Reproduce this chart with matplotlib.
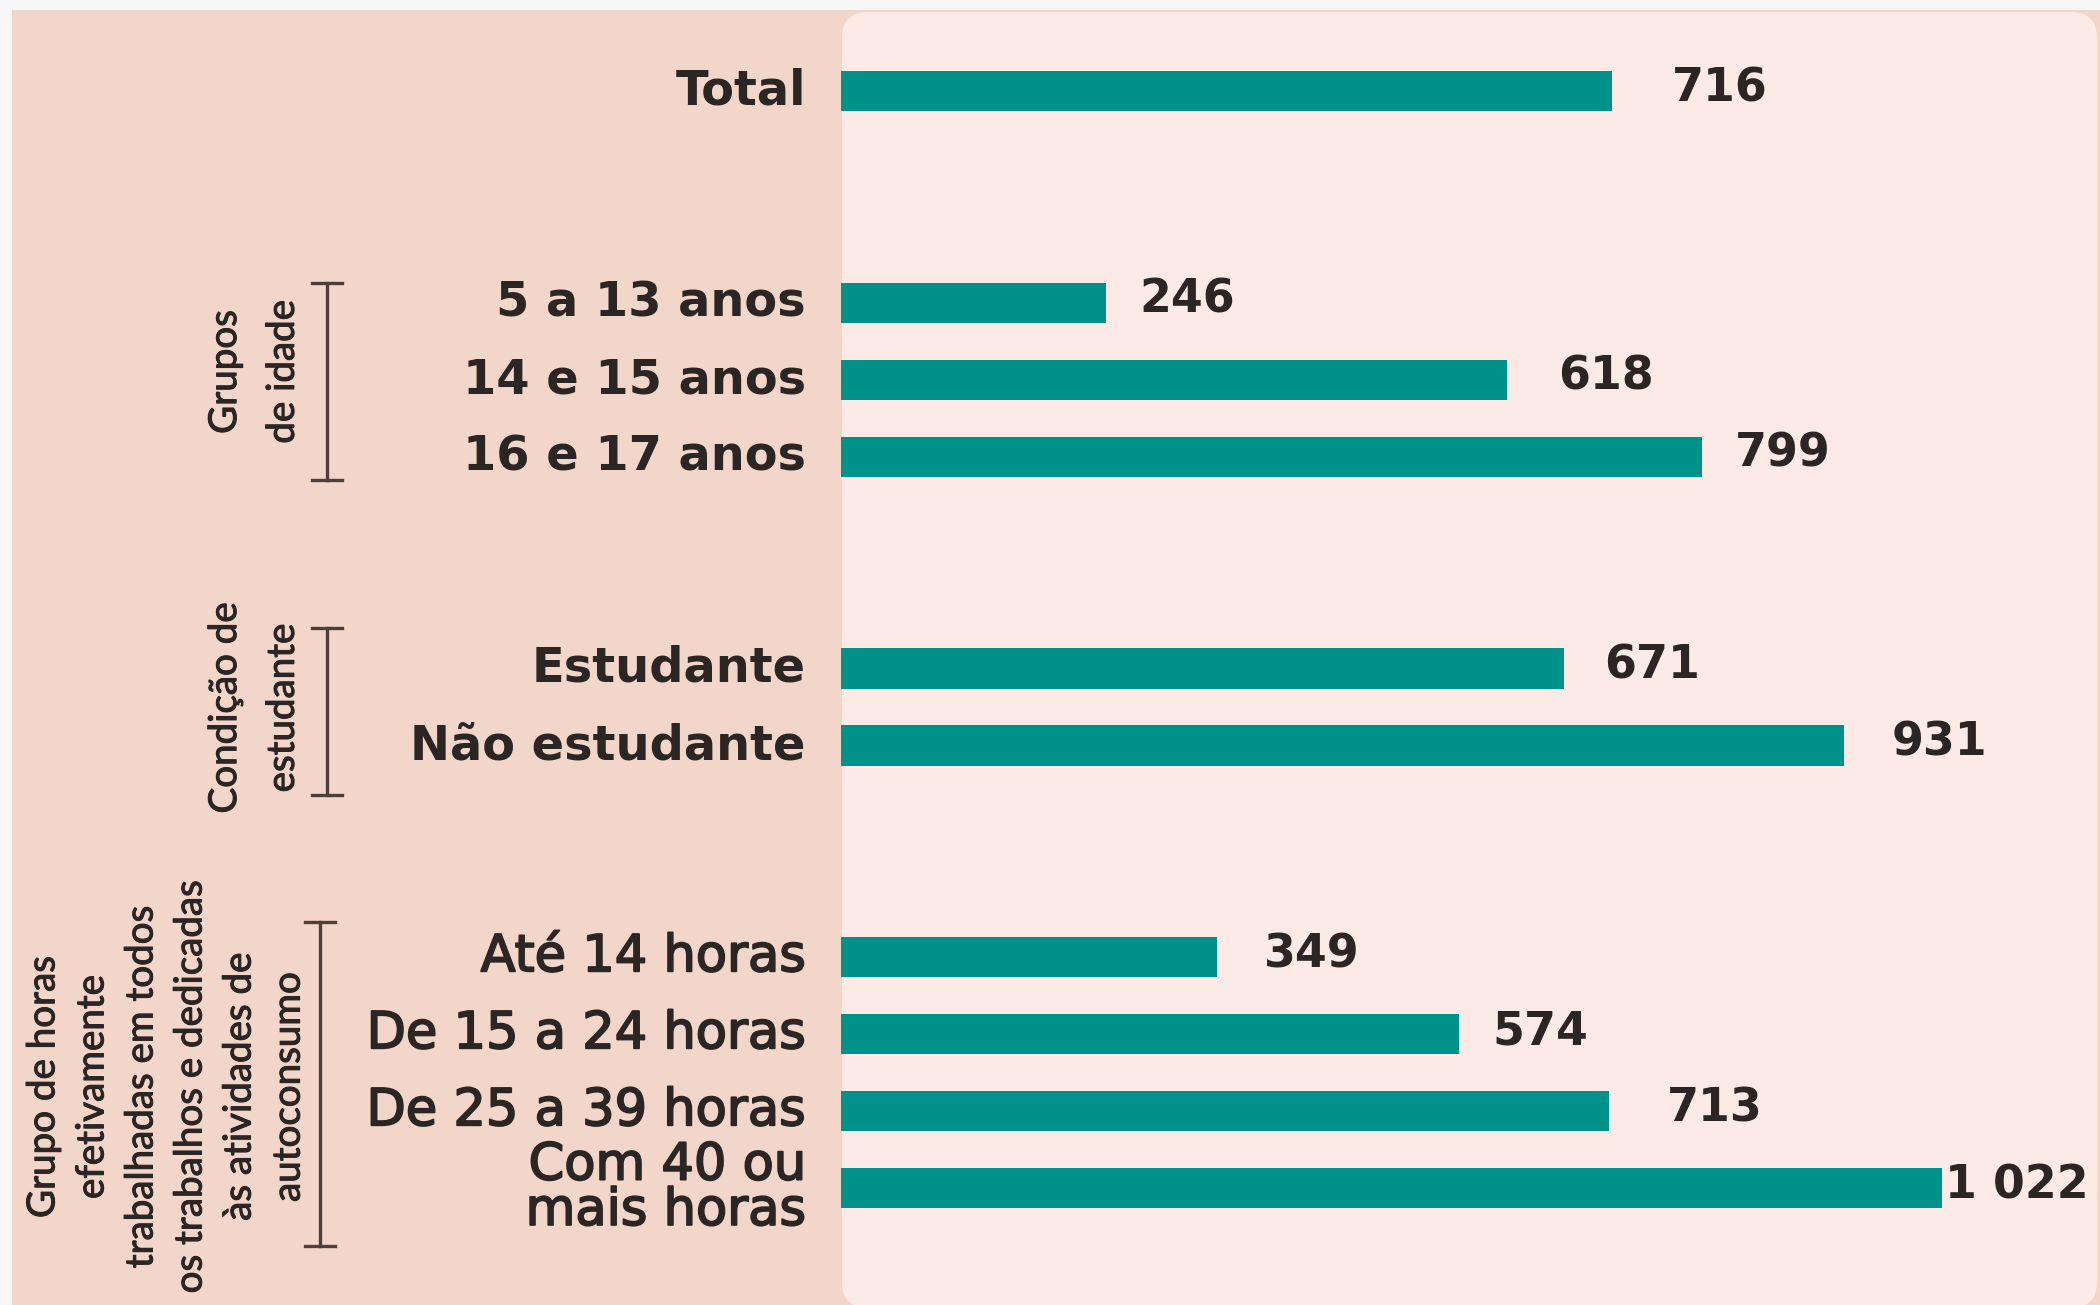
'''
Horizontal bar chart: values by age group, student condition and hours worked
'''

import matplotlib.pyplot as plt
import matplotlib.patheffects as pe
from matplotlib.patches import Rectangle, FancyBboxPatch


categories = ['Total',
              '5 a 13 anos', '14 e 15 anos', '16 e 17 anos',
              'Estudante', 'Não estudante',
              'Até 14 horas', 'De 15 a 24 horas', 'De 25 a 39 horas',
              'Com 40 ou\nmais horas']
values = [716, 246, 618, 799, 671, 931, 349, 574, 713, 1022]

group_sizes = [1, 3, 2, 4]
group_titles = [None,
                'Grupos\nde idade',
                'Condição de\nestudante',
                'Grupo de horas\nefetivamente\ntrabalhadas em todos\n'
                'os trabalhos e dedicadas\nàs atividades de\nautoconsumo']

# gap (in px) between bar end and its value label
label_gap = [60, 33, 52, 33, 40, 48, 47, 33, 58, 3]

W, H = 2100, 1305
X0 = 841          # px where the bars start
PX_PER_UNIT = 1.077
Y0 = 91           # px of the first bar centre
ROW = 77.0        # px per row

BAR_COLOR = '#00928A'
DARK_BG = '#F3D6CA'
LIGHT_BG = '#FCEAE6'
TEXT_COLOR = '#2B2523'
BRACKET_COLOR = '#4E3F3A'


def px2x(px):
    return (px - X0) / PX_PER_UNIT


def py2y(py):
    return (py - Y0) / ROW


def row_positions(sizes, extra_gap=1.75):
    pos = []
    grp = []
    y = 0.0
    for g, n in enumerate(sizes):
        for k in range(n):
            pos.append(y)
            grp.append(g)
            y += 1
        y += extra_gap
    return pos, grp


def draw_background(fig):
    # whitish frame on top / left, darker peach behind everything
    fig.patch.set_facecolor('#F7F7F7')
    fig.patches.append(Rectangle((13 / W, 0), 1, (H - 11) / H,
                                 transform=fig.transFigure, color=DARK_BG, zorder=0))
    # lighter rounded panel where the bars live
    fig.patches.append(FancyBboxPatch((843 / W, -2 / H), (2096 - 843) / W, (H - 11) / H,
                                      boxstyle='round,pad=0,rounding_size=0.012',
                                      mutation_aspect=W / H,
                                      transform=fig.transFigure, color=LIGHT_BG, zorder=1))


def main():
    fig = plt.figure(figsize=(14, 8.7), dpi=150)
    draw_background(fig)

    ax = fig.add_axes([0, 0, 1, 1])
    ax.set_zorder(5)
    ax.patch.set_visible(False)
    ax.set_xlim(px2x(0), px2x(W))
    ax.set_ylim(py2y(H), py2y(0))
    ax.axis('off')

    pos, grp = row_positions(group_sizes)

    ax.barh(pos, values, height=0.52, color=BAR_COLOR, zorder=3)

    # a thin stroke gives the regular fonts a medium weight
    medium = [pe.withStroke(linewidth=0.9, foreground=TEXT_COLOR)]

    # category labels and value labels (hours group is set in a lighter weight)
    for p, g, cat, v, gap in zip(pos, grp, categories, values, label_gap):
        if g == 3:
            ax.text(px2x(806), p, cat, ha='right', va='center', fontsize=24.5,
                    color=TEXT_COLOR, linespacing=0.88, path_effects=medium)
        else:
            ax.text(px2x(806), p, cat, ha='right', va='center', fontsize=23,
                    fontweight='bold', color=TEXT_COLOR)
        ax.text(v + gap / PX_PER_UNIT, p - 0.03, '{:,}'.format(v).replace(',', ' '),
                ha='left', va='center', fontsize=22, fontweight='bold', color=TEXT_COLOR)

    # brackets with rotated group titles
    bracket_px = [None, (327, 283, 480), (327, 628, 795), (320, 922, 1246)]
    title_px = [None, (254, 372, 1.75), (254, 708, 1.75), (166, 1087, 1.45)]
    for title, br, tp in zip(group_titles, bracket_px, title_px):
        if title is None:
            continue
        bx, btop, bbot = br
        x = px2x(bx)
        cap = 15 / PX_PER_UNIT
        ax.plot([x, x], [py2y(btop), py2y(bbot)], color=BRACKET_COLOR, lw=1.6)
        ax.plot([x - cap, x + cap], [py2y(btop)] * 2, color=BRACKET_COLOR, lw=1.6)
        ax.plot([x - cap, x + cap], [py2y(bbot)] * 2, color=BRACKET_COLOR, lw=1.6)
        tx, ty, ls = tp
        ax.text(px2x(tx), py2y(ty), title, rotation=90, ha='center', va='center',
                multialignment='center', fontsize=18.5, color=TEXT_COLOR, linespacing=ls,
                family=['Lato', 'DejaVu Sans'],
                path_effects=[pe.withStroke(linewidth=0.5, foreground=TEXT_COLOR)])

    fig.savefig('out.png', dpi=150, facecolor=fig.get_facecolor())
    plt.close(fig)


if __name__ == '__main__':
    main()
